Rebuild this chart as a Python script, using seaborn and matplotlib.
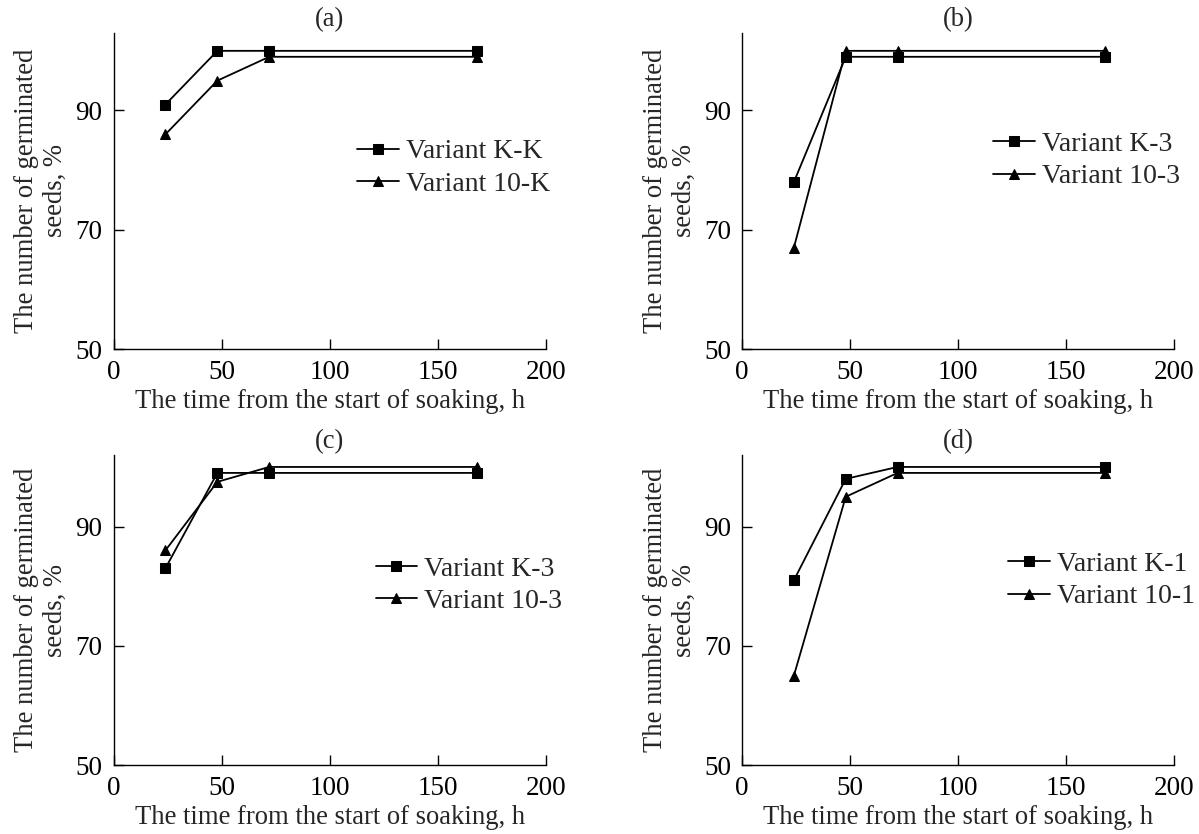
import pandas as pd
import matplotlib.pyplot as plt
import seaborn as sns

# time points, h
hours = [24, 48, 72, 168]

# germinated seeds, %
a_kk = [91, 100, 100, 100]
a_10k = [86, 95, 99, 99]
b_k3 = [78, 99, 99, 99]
b_103 = [67, 100, 100, 100]
c_k3 = [83, 99, 99, 99]
c_103 = [86, 97.5, 100, 100]
d_k1 = [81, 98, 100, 100]
d_101 = [65, 95, 99, 99]

panels = [
    ("(a)", ("Variant K-K", a_kk), ("Variant 10-K", a_10k)),
    ("(b)", ("Variant K-3", b_k3), ("Variant 10-3", b_103)),
    ("(c)", ("Variant K-3", c_k3), ("Variant 10-3", c_103)),
    ("(d)", ("Variant K-1", d_k1), ("Variant 10-1", d_101)),
]

y_ticks = [50, 70, 90]
x_ticks = [0, 50, 100, 150, 200]

sns.set_style("ticks")
plt.rcParams["font.family"] = ["Liberation Serif", "DejaVu Serif"]
plt.rcParams["xtick.direction"] = "in"
plt.rcParams["ytick.direction"] = "in"
fs = 19.2

fig = plt.figure(figsize=(11.99, 8.34), dpi=100)

# axes boxes [left, bottom, width, height]
boxes = [
    [0.0947, 0.5815, 0.3607, 0.379],
    [0.6189, 0.5815, 0.3603, 0.379],
    [0.0947, 0.0827, 0.3607, 0.3717],
    [0.6189, 0.0827, 0.3603, 0.3717],
]
legend_pos = [(0.563, 0.573), (0.581, 0.597), (0.606, 0.58), (0.616, 0.595)]
y_tops = [103, 103, 102, 102]

for i, (title, (name1, vals1), (name2, vals2)) in enumerate(panels):
    ax = fig.add_axes(boxes[i])
    df = pd.DataFrame({
        "time": hours + hours,
        "value": vals1 + vals2,
        "variant": [name1] * len(hours) + [name2] * len(hours),
    })
    sns.lineplot(data=df, x="time", y="value", style="variant",
                 markers={name1: "s", name2: "^"}, dashes=False,
                 color="black", linewidth=1.3, markersize=6.5,
                 markeredgecolor="black", ax=ax)
    ax.set_xlim(0, 200)
    ax.set_ylim(50, y_tops[i])
    ax.set_xticks(x_ticks)
    ax.set_yticks(y_ticks)
    ax.tick_params(length=7, width=1, colors="black", labelsize=19.5, pad=8)
    sns.despine(ax=ax)
    for s in ["left", "bottom"]:
        ax.spines[s].set_color("black")
        ax.spines[s].set_linewidth(1)
    ax.set_title(title, fontsize=fs, pad=5)
    ax.set_xlabel("The time from the start of soaking, h", fontsize=fs, labelpad=3)
    ax.set_ylabel("The number of germinated\nseeds, %", fontsize=fs,
                  linespacing=1.2)
    ax.yaxis.set_label_coords(-0.105, 0.5)
    ax.legend(loc="center left", bbox_to_anchor=legend_pos[i], frameon=False,
              handlelength=1.5, handletextpad=0.25, labelspacing=0.25,
              fontsize=20, borderaxespad=0, borderpad=0)

fig.savefig("out.png", dpi=100)
